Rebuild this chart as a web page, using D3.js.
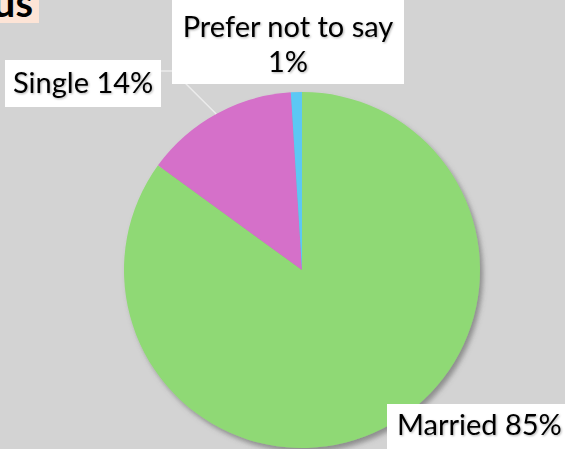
<!DOCTYPE html>
<html>
<head>
<meta charset="utf-8">
<script src="https://cdn.jsdelivr.net/npm/d3@7"></script>
<style>
  html, body { margin: 0; padding: 0; background: #d3d3d3; }
  svg { display: block; }
  text { font-family: Lato, "Open Sans", sans-serif; fill: #000; }
</style>
</head>
<body>
<svg id="chart" width="565" height="449"></svg>
<script>
// Marital status breakdown (percent of respondents)
const categories = ["Married", "Single", "Prefer not to say"];
const values = [85, 14, 1];
const sliceColors = ["#8fd974", "#d56fc9", "#5cc8f4"];
const titleText = "Marital Status";

const width = 565, height = 449;
const cx = 302, cy = 270, radius = 178;

const svg = d3.select("#chart");

const defs = svg.append("defs");
defs.append("filter").attr("id", "pieShadow")
    .attr("x", "-20%").attr("y", "-20%").attr("width", "140%").attr("height", "140%")
  .append("feDropShadow")
    .attr("dx", 3).attr("dy", 4).attr("stdDeviation", 2.5)
    .attr("flood-color", "#555").attr("flood-opacity", 0.55);
defs.append("filter").attr("id", "textShadow")
  .append("feDropShadow")
    .attr("dx", 1).attr("dy", 1).attr("stdDeviation", 0.8)
    .attr("flood-color", "#000").attr("flood-opacity", 0.3);

svg.append("rect").attr("width", width).attr("height", height).attr("fill", "#d3d3d3");

// Title banner, running off the top-left corner
svg.append("rect").attr("x", -400).attr("y", -10).attr("width", 439).attr("height", 33)
  .attr("fill", "#fde4d6");
svg.append("text").attr("x", 33).attr("y", 17)
  .attr("text-anchor", "end").attr("font-weight", 700).attr("font-size", 40)
  .text(titleText);

const data = categories.map((c, i) => ({ category: c, value: values[i], color: sliceColors[i] }));

const pie = d3.pie().sort(null).value(d => d.value);
const arcs = pie(data);
const arc = d3.arc().innerRadius(0).outerRadius(radius);

const g = svg.append("g").attr("transform", `translate(${cx},${cy})`);
g.append("g").attr("filter", "url(#pieShadow)")
  .selectAll("path").data(arcs).join("path")
    .attr("d", arc)
    .attr("fill", d => d.data.color);

// Leader line from the "Single" label to the slice edge
const edge = d3.arc().innerRadius(radius).outerRadius(radius);
const singleArc = arcs[1];
const [ex, ey] = edge.centroid(singleArc);
svg.append("polyline")
  .attr("points", [[161, 71], [173, 71], [cx + ex, cy + ey]].map(p => p.join(",")).join(" "))
  .attr("fill", "none").attr("stroke", "#ececec").attr("stroke-width", 1.5);

const pct = v => `${v}%`;

// Label boxes
const labelSpec = [
  { box: [387, 404, 190, 50], lines: [`${categories[0]} ${pct(values[0])}`], x: 397, y: [435], anchor: "start" },
  { box: [5, 60, 156, 47], lines: [`${categories[1]} ${pct(values[1])}`], x: 13, y: [93], anchor: "start" },
  { box: [172, -5, 232, 89], lines: [categories[2], pct(values[2])], x: 288, y: [37, 72], anchor: "middle" }
];

labelSpec.forEach(l => {
  svg.append("rect")
    .attr("x", l.box[0]).attr("y", l.box[1]).attr("width", l.box[2]).attr("height", l.box[3])
    .attr("fill", "#fff");
  l.lines.forEach((t, i) => {
    svg.append("text")
      .attr("x", l.x).attr("y", l.y[i])
      .attr("text-anchor", l.anchor)
      .attr("font-size", 29)
      .attr("filter", "url(#textShadow)")
      .text(t);
  });
});
</script>
</body>
</html>
